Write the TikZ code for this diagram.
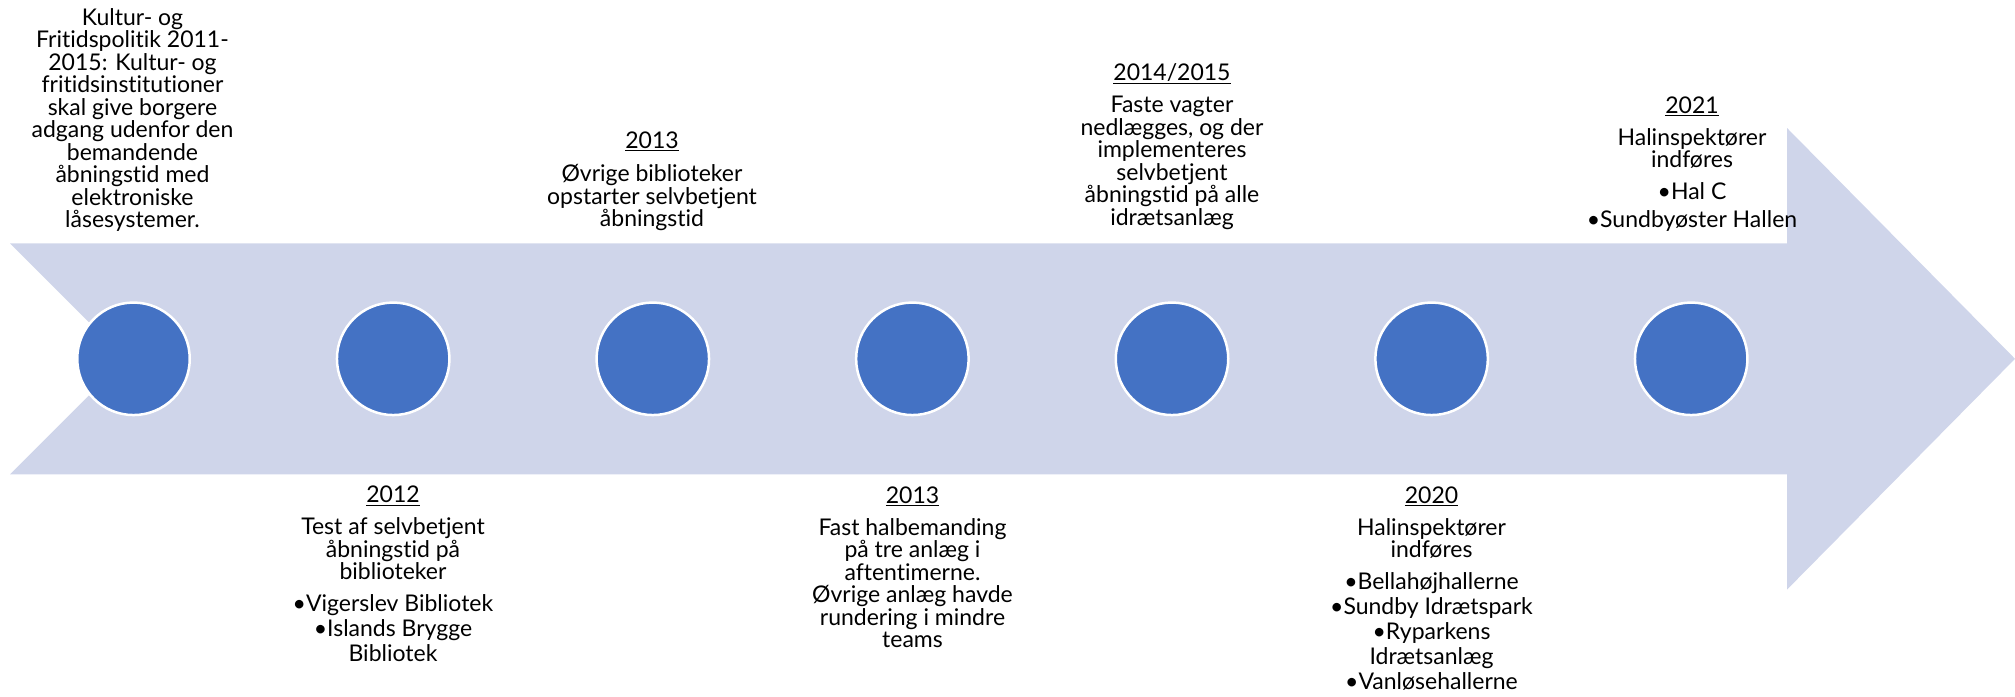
\documentclass[tikz,border=0pt]{standalone}
\usepackage{fontspec}
\setmainfont{Lato}[Ligatures={NoCommon}]
\definecolor{arrowfill}{HTML}{CFD5EA}
\definecolor{dotfill}{HTML}{4472C4}
\newcommand{\yrul}[1]{\setbox0=\hbox{#1}\rlap{\rule[-2.8pt]{\wd0}{1.2pt}}\box0}
\newcommand{\fl}{\rule{0pt}{20pt}}
\tikzset{
  txt/.style={align=center, anchor=north, inner sep=0pt, text=black,
    font=\fontsize{23}{22.5}\selectfont},
  dot/.style={circle, fill=dotfill, draw=white, line width=2.5pt,
    minimum size=112.5pt, inner sep=0pt}
}
\begin{document}
\begin{tikzpicture}[x=1pt,y=-1pt]
\useasboundingbox (0,0) rectangle (2015,696);
% arrow
\fill[arrowfill] (10,243.3) -- (1787,243.3) -- (1787,128) -- (2015,358.8)
  -- (1787,589.6) -- (1787,474.3) -- (10,474.3) -- (125.5,358.8) -- cycle;
% circles
\foreach \i/\x in {1/133.5,2/393.2,3/652.8,4/912.4,5/1172,6/1431.6,7/1691.2}
  \node[dot] (c\i) at (\x,358.8) {};
% texts
\node[txt] (t1) at (132.5,5) {\fl Kultur- og\\Fritidspolitik 2011-\\2015: Kultur- og\\fritidsinstitutioner\\skal give borgere\\adgang udenfor den\\bemandende\\åbningstid med\\elektroniske\\låsesystemer.};
\node[txt] (t2) at (393,482.7) {\fl\yrul{2012}\\[9.5pt]Test af selvbetjent\\åbningstid på\\biblioteker\\[9.5pt]•Vigerslev Bibliotek\\[2.5pt]•Islands Brygge\\[2.5pt]Bibliotek};
\node[txt] (t3) at (652,128) {\fl\yrul{2013}\\[11pt]Øvrige biblioteker\\opstarter selvbetjent\\åbningstid};
\node[txt] (t4) at (912.5,483) {\fl\yrul{2013}\\[9.5pt]Fast halbemanding\\på tre anlæg i\\aftentimerne.\\Øvrige anlæg havde\\rundering i mindre\\teams};
\node[txt] (t5) at (1172,60.7) {\fl\yrul{2014/2015}\\[9.5pt]Faste vagter\\nedlægges, og der\\implementeres\\selvbetjent\\åbningstid på alle\\idrætsanlæg};
\node[txt] (t6) at (1431.5,483) {\fl\yrul{2020}\\[9.5pt]Halinspektører\\indføres\\[9.5pt]•Bellahøjhallerne\\[2.5pt]•Sundby Idrætspark\\[2.5pt]•Ryparkens\\[2.5pt]Idrætsanlæg\\[2.5pt]•Vanløsehallerne};
\node[txt] (t7) at (1692,93) {\fl\yrul{2021}\\[9.5pt]Halinspektører\\indføres\\[9.5pt]•Hal C\\[5pt]•Sundbyøster Hallen};
\end{tikzpicture}
\end{document}
